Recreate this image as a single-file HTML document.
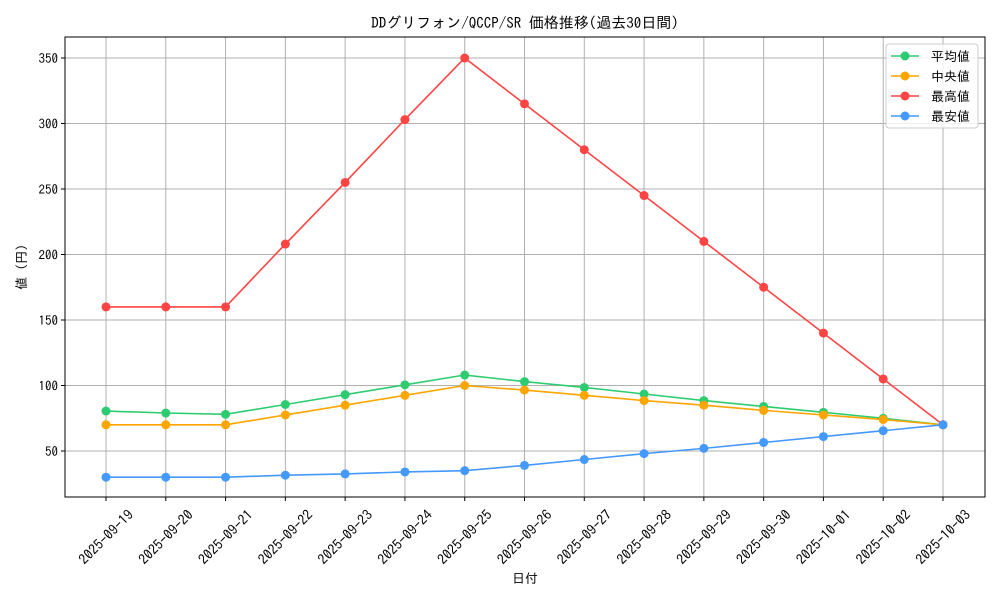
<!DOCTYPE html>
<html><head><meta charset="utf-8"><style>
body{margin:0;background:#fff;}
svg{display:block;font-family:"IPAGothic","Liberation Mono","Noto Sans CJK JP",monospace;}
</style></head><body>
<svg id="c" width="1000" height="600" xmlns="http://www.w3.org/2000/svg"></svg>
<script>
const categories=["2025-09-19","2025-09-20","2025-09-21","2025-09-22","2025-09-23","2025-09-24","2025-09-25","2025-09-26","2025-09-27","2025-09-28","2025-09-29","2025-09-30","2025-10-01","2025-10-02","2025-10-03"];
const avgValues=[80.5,79,78,85.5,93,100.5,108,103,98.5,93.5,88.5,84,79.5,75,70];
const medValues=[70,70,70,77.5,85,92.5,100,96.5,92.5,88.5,85,81,77.5,74,70];
const maxValues=[160,160,160,208,255,303,350,315,280,245,210,175,140,105,70];
const minValues=[30,30,30,31.5,32.5,34,35,39,43.5,48,52,56.5,61,65.5,70];
const yTicks=[50,100,150,200,250,300,350];
const seriesNames=["平均値","中央値","最高値","最安値"];
const seriesColors=["#2ecc71","#ffa500","#ff4444","#4499ff"];

const svg=document.getElementById('c');const NS="http://www.w3.org/2000/svg";
function mk(t,a,p){const e=document.createElementNS(NS,t);for(const k in a)e.setAttribute(k,a[k]);(p||svg).appendChild(e);return e;}
const L=65,R=985,T=37,B=497;
const x=i=>106+i*(943-106)/(categories.length-1);
const y=v=>516.5-v*1.31;
categories.forEach((c,i)=>{const g=mk('line',{x1:x(i),x2:x(i),y1:T,y2:B,stroke:'#b0b0b0','stroke-width':1});

const tk=mk('line',{x1:x(i),x2:x(i),y1:B,y2:B+4,stroke:'#000'});

const cy=537;
const t=mk('text',{x:x(i),y:cy+5,'font-size':14,'text-anchor':'middle',transform:`rotate(-45 ${x(i)} ${cy})`});t.textContent=c;
});
yTicks.forEach(v=>{const g=mk('line',{x1:L,x2:R,y1:y(v),y2:y(v),stroke:'#b0b0b0','stroke-width':1});

const tk=mk('line',{x1:L-4,x2:L,y1:y(v),y2:y(v),stroke:'#000'});

const t=mk('text',{x:L-7,y:y(v)+5,'font-size':13,'text-anchor':'end'});t.textContent=v;
});
const fr=mk('rect',{x:L,y:T,width:R-L,height:B-T,fill:'none',stroke:'#000','stroke-width':1});

[avgValues,medValues,maxValues,minValues].forEach((arr,s)=>{
 const g=mk('g',{});
 mk('polyline',{points:arr.map((v,i)=>x(i)+','+y(v)).join(' '),fill:'none',stroke:seriesColors[s],'stroke-width':1.6},g);
 arr.forEach((v,i)=>{const p=mk('circle',{cx:x(i),cy:y(v),r:4.5,fill:seriesColors[s]},g);
 });
});
const t1=mk('text',{x:525,y:28,'font-size':15,'text-anchor':'middle'});t1.textContent="DDグリフォン/QCCP/SR 価格推移(過去30日間)";

const t2=mk('text',{x:525,y:583,'font-size':13,'text-anchor':'middle'});t2.textContent="日付";

const t3=mk('text',{x:26,y:267,'font-size':13,'text-anchor':'middle',transform:'rotate(-90 26 267)'});t3.textContent="値 (円)";

const lg=mk('g',{});
mk('rect',{x:886,y:44,width:92,height:84,rx:3,fill:'#fff','fill-opacity':0.8,stroke:'#ccc'},lg);
seriesNames.forEach((n,i)=>{const yy=56+i*20;const e=mk('g',{},lg);

mk('line',{x1:891,x2:919,y1:yy,y2:yy,stroke:seriesColors[i],'stroke-width':1.6},e);
mk('circle',{cx:905,cy:yy,r:4.5,fill:seriesColors[i]},e);
const t=mk('text',{x:931,y:yy+5,'font-size':13},e);t.textContent=n;});
</script>
</body></html>
